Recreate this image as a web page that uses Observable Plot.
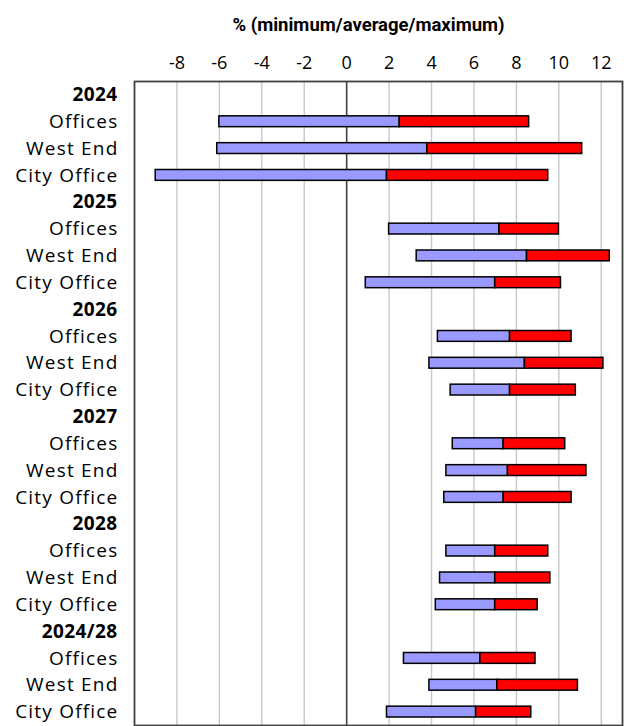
<!DOCTYPE html>
<html>
<head>
<meta charset="utf-8">
<script src="https://cdn.jsdelivr.net/npm/d3@7"></script>
<script src="https://cdn.jsdelivr.net/npm/@observablehq/plot@0.6"></script>
<style>
  html, body { margin: 0; padding: 0; background: #fff; }
  .row-label text { letter-spacing: 1.2px; }
  .row-header text { letter-spacing: 0.4px; }
</style>
</head>
<body>
<div id="chart"></div>
<script>
const title = "% (minimum/average/maximum)";
const groups = ["2024", "2025", "2026", "2027", "2028", "2024/28"];
const segments = ["Offices", "West End", "City Office"];
// per group, per segment (Offices, West End, City Office)
const minVals = [-6.0, -6.1, -9.0,  2.0, 3.3, 0.9,  4.3, 3.9, 4.9,  5.0, 4.7, 4.6,  4.7, 4.4, 4.2,  2.7, 3.9, 1.9];
const avgVals = [ 2.5,  3.8,  1.9,  7.2, 8.5, 7.0,  7.7, 8.4, 7.7,  7.4, 7.6, 7.4,  7.0, 7.0, 7.0,  6.3, 7.1, 6.1];
const maxVals = [ 8.6, 11.1,  9.5, 10.0, 12.4, 10.1, 10.6, 12.1, 10.8, 10.3, 11.3, 10.6, 9.5, 9.6, 9.0,  8.9, 10.9, 8.7];
const xTicks = [-8, -6, -4, -2, 0, 2, 4, 6, 8, 10, 12];

const rowKeys = [];
const headers = [];
const subRows = [];
const bars = [];
groups.forEach((g, gi) => {
  rowKeys.push(g);
  headers.push({key: g, label: g});
  segments.forEach((s, si) => {
    const k = g + "|" + s;
    rowKeys.push(k);
    subRows.push({key: k, label: s});
    const i = gi * segments.length + si;
    bars.push({key: k, min: minVals[i], avg: avgVals[i], max: maxVals[i]});
  });
});

const W = 627, H = 726;
const chart = Plot.plot({
  width: W,
  height: H,
  marginTop: 81,
  marginBottom: 1,
  marginLeft: 134,
  marginRight: 5,
  x: {domain: [-10, 13], ticks: xTicks, label: null},
  y: {domain: rowKeys, padding: 0, round: false, axis: null},
  style: {fontFamily: "'Open Sans', sans-serif", background: "#fff"},
  marks: [
    Plot.ruleX(xTicks.filter(d => d !== 0), {stroke: "#c8c8c8", strokeWidth: 1.4}),
    Plot.ruleX([0], {stroke: "#404040", strokeWidth: 1.6}),
    Plot.barX(bars, {y: "key", x1: "min", x2: "avg", fill: "#9999ff", stroke: "#000", strokeWidth: 1.5, insetTop: 8, insetBottom: 8}),
    Plot.barX(bars, {y: "key", x1: "avg", x2: "max", fill: "#ff0000", stroke: "#000", strokeWidth: 1.5, insetTop: 8, insetBottom: 8}),
    Plot.frame({stroke: "#404040", strokeWidth: 1.8}),
    Plot.axisX({anchor: "top", ticks: xTicks, tickSize: 0, tickPadding: 13, fontSize: 18, tickFormat: d => String(d), fill: "#000"}),
    Plot.text(headers, {y: "key", text: "label", frameAnchor: "left", textAnchor: "end", dx: -17, fontSize: 19, fontWeight: "bold", fill: "#000", className: "row-header"}),
    Plot.text(subRows, {y: "key", text: "label", frameAnchor: "left", textAnchor: "end", dx: -16, fontSize: 19, fill: "#000", className: "row-label"}),
    Plot.text([title], {frameAnchor: "top", dy: -64, dx: -10, fontSize: 18.5, fontWeight: "bold", fontFamily: "Roboto, sans-serif", fill: "#000"})
  ]
});
document.getElementById("chart").appendChild(chart);
</script>
</body>
</html>
